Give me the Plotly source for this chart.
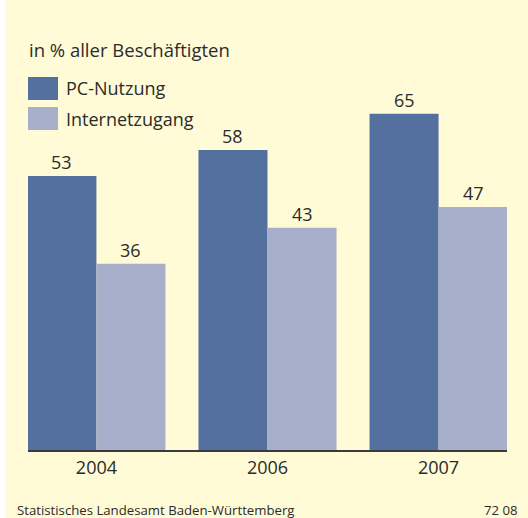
import plotly.graph_objects as go

years = ["2004", "2006", "2007"]
pc_nutzung = [53, 58, 65]
internetzugang = [36, 43, 47]
series_names = ["PC-Nutzung", "Internetzugang"]
colors = ["#54709e", "#a8afcb"]

BG = "#fffbd7"
TXT = "#2b2b2b"
FONT = "Open Sans, sans-serif"
FS = 18

W, H = 528, 518
ML, MR, MT, MB = 28, 21, 88, 68
PW = W - ML - MR
PH = H - MT - MB

xs = list(range(len(years)))
bw = 0.4035

fig = go.Figure()
for vals, name, col, off in [(pc_nutzung, series_names[0], colors[0], -bw),
                             (internetzugang, series_names[1], colors[1], 0.0)]:
    fig.add_trace(go.Bar(x=xs, y=vals, name=name, marker=dict(color=col, line=dict(width=0)),
                         width=bw, offset=off, showlegend=False, hoverinfo="skip"))
    for x, v in zip(xs, vals):
        fig.add_annotation(x=x + off + bw / 2, y=v, text=str(v), showarrow=False,
                           xanchor="center", yanchor="bottom", yshift=0,
                           font=dict(size=FS, color=TXT, family=FONT))

def px2px(px):
    return (px - ML) / PW

def py2py(py):
    return (H - MB - py) / PH

shapes = []
shapes.append(dict(type="rect", xref="paper", yref="paper", x0=px2px(-2), x1=px2px(5),
                   y0=py2py(H + 2), y1=py2py(-2), fillcolor="white", line=dict(width=0), layer="below"))
for i, (name, col) in enumerate(zip(series_names, colors)):
    top = 77 + i * 30
    shapes.append(dict(type="rect", xref="paper", yref="paper", x0=px2px(28), x1=px2px(58),
                       y0=py2py(top + 23), y1=py2py(top), fillcolor=col, line=dict(width=0)))
    fig.add_annotation(xref="paper", yref="paper", x=px2px(64), y=py2py(top + 11.5), text=name,
                       showarrow=False, xanchor="left", yanchor="middle",
                       font=dict(size=FS, color=TXT, family=FONT))

fig.add_annotation(xref="paper", yref="paper", x=px2px(27), y=py2py(50), text="in % aller Beschäftigten",
                   showarrow=False, xanchor="left", yanchor="middle",
                   font=dict(size=18.5, color=TXT, family=FONT))
fig.add_annotation(xref="paper", yref="paper", x=px2px(15), y=py2py(510),
                   text="Statistisches Landesamt Baden-Württemberg",
                   showarrow=False, xanchor="left", yanchor="middle",
                   font=dict(size=13.2, color=TXT, family=FONT))
fig.add_annotation(xref="paper", yref="paper", x=px2px(520), y=py2py(510), text="72 08",
                   showarrow=False, xanchor="right", yanchor="middle",
                   font=dict(size=13.2, color=TXT, family=FONT))

fig.update_layout(
    width=W, height=H,
    margin=dict(l=ML, r=MR, t=MT, b=MB, pad=0),
    paper_bgcolor=BG, plot_bgcolor=BG,
    shapes=shapes,
    showlegend=False,
    xaxis=dict(range=[-0.4, 2.4], tickvals=xs, ticktext=years, showgrid=False, zeroline=False,
               showline=True, linecolor="#3a3a3a", linewidth=2, ticks="",
               tickfont=dict(size=FS, color=TXT, family=FONT), fixedrange=True),
    yaxis=dict(range=[0, 70], visible=False, showgrid=False, zeroline=False, fixedrange=True),
)

fig.write_html("out.html", config={"displayModeBar": False},
               post_script="document.body.style.margin='0';document.body.style.padding='0';")
